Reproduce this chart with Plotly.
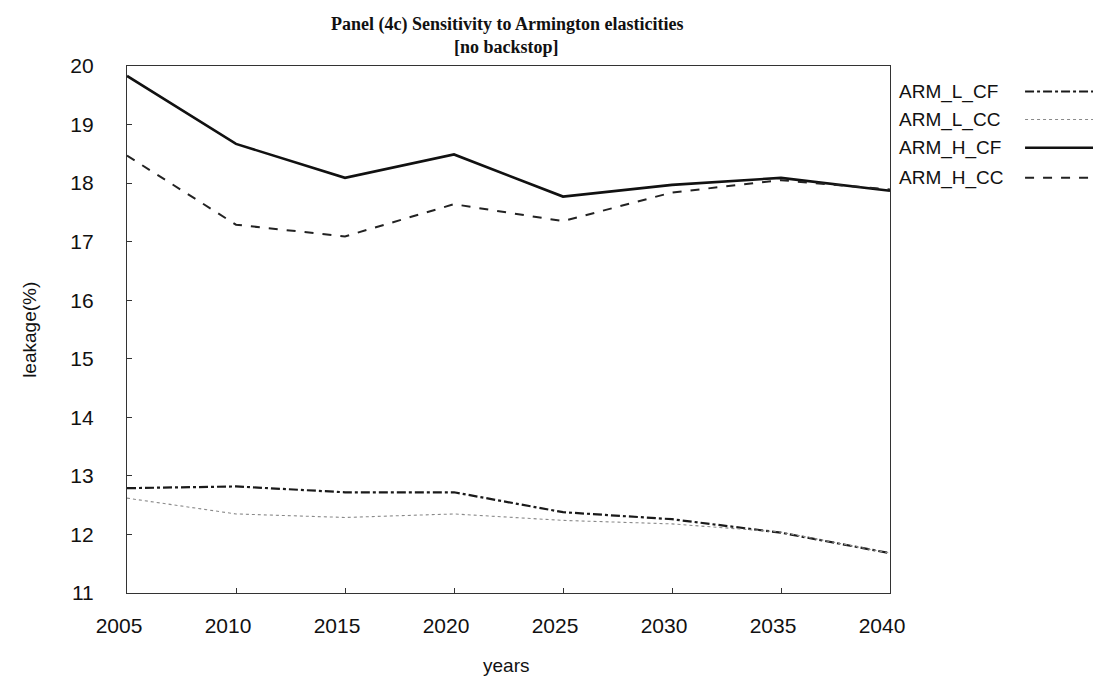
import plotly.graph_objects as go

years = [2005, 2010, 2015, 2020, 2025, 2030, 2035, 2040]

arm_l_cf = [12.79, 12.82, 12.72, 12.72, 12.38, 12.26, 12.03, 11.68]
arm_l_cc = [12.62, 12.35, 12.29, 12.35, 12.24, 12.18, 12.04, 11.68]
arm_h_cf = [19.83, 18.67, 18.09, 18.49, 17.77, 17.97, 18.09, 17.87]
arm_h_cc = [18.47, 17.29, 17.09, 17.64, 17.35, 17.84, 18.05, 17.89]

series_names = ["ARM_L_CF", "ARM_L_CC", "ARM_H_CF", "ARM_H_CC"]
series_values = [arm_l_cf, arm_l_cc, arm_h_cf, arm_h_cc]
series_styles = [
    dict(color="#1a1a1a", width=2.2, dash="dashdot"),
    dict(color="#8a8a8a", width=1.1, dash="dot"),
    dict(color="#111111", width=2.6, dash="solid"),
    dict(color="#222222", width=2.0, dash="dash"),
]

y_ticks = list(range(11, 21))

fig = go.Figure()
for name, vals, style in zip(series_names, series_values, series_styles):
    fig.add_trace(go.Scatter(x=years, y=vals, mode="lines", name=name,
                             line=style, showlegend=False))

# legend drawn to the right of the frame: label first, line sample after
legend_y = [0.9516, 0.8984, 0.845, 0.788]
for name, style, ly in zip(series_names, series_styles, legend_y):
    fig.add_annotation(x=1.009, y=ly, xref="paper", yref="paper",
                       text=name, showarrow=False, xanchor="left", yanchor="middle",
                       font=dict(family="Liberation Sans, Arial, sans-serif", size=19, color="#111"))
    fig.add_shape(type="line", xref="paper", yref="paper",
                  x0=1.177, x1=1.268, y0=ly, y1=ly,
                  line=dict(color=style["color"], width=style["width"], dash=style["dash"]))

# two-line heading above the frame
title_font = dict(family="Liberation Serif, Times New Roman, serif", size=18, color="#111", weight="bold")
fig.add_annotation(x=0.498, y=1.079, xref="paper", yref="paper", showarrow=False,
                   text="Panel (4c) Sensitivity to Armington elasticities",
                   xanchor="center", yanchor="middle", font=title_font)
fig.add_annotation(x=0.498, y=1.037, xref="paper", yref="paper", showarrow=False,
                   text="[no backstop]", xanchor="center", yanchor="middle", font=title_font)

# axis titles
axis_title_font = dict(family="Liberation Sans, Arial, sans-serif", size=19, color="#111")
fig.add_annotation(x=0.4967, y=-0.137, xref="paper", yref="paper", showarrow=False,
                   text="years", xanchor="center", yanchor="middle", font=axis_title_font)
fig.add_annotation(x=-0.127, y=0.4995, xref="paper", yref="paper", showarrow=False,
                   text="leakage(%)", textangle=-90, xanchor="center", yanchor="middle",
                   font=axis_title_font)

fig.update_layout(
    width=1093, height=681,
    margin=dict(l=127, r=203, t=66, b=88),
    paper_bgcolor="white", plot_bgcolor="white",
    font=dict(family="Liberation Sans, Arial, sans-serif", color="#111"),
)

fig.update_xaxes(
    range=[2005, 2040], tickmode="array", tickvals=years,
    ticks="inside", ticklen=5, tickcolor="#333",
    showline=True, linecolor="#333", linewidth=1.2, mirror=True,
    showgrid=False, zeroline=False, automargin=False,
    tickfont=dict(size=21, color="#111"),
    ticklabelstandoff=14, ticklabelshift=-8,
)
fig.update_yaxes(
    range=[11, 20], tickmode="array", tickvals=y_ticks,
    ticks="inside", ticklen=5, tickcolor="#333",
    showline=True, linecolor="#333", linewidth=1.2, mirror=True,
    showgrid=False, zeroline=False, automargin=False,
    tickfont=dict(size=21, color="#111"),
    ticklabelstandoff=28,
)

fig.write_html("out.html")
